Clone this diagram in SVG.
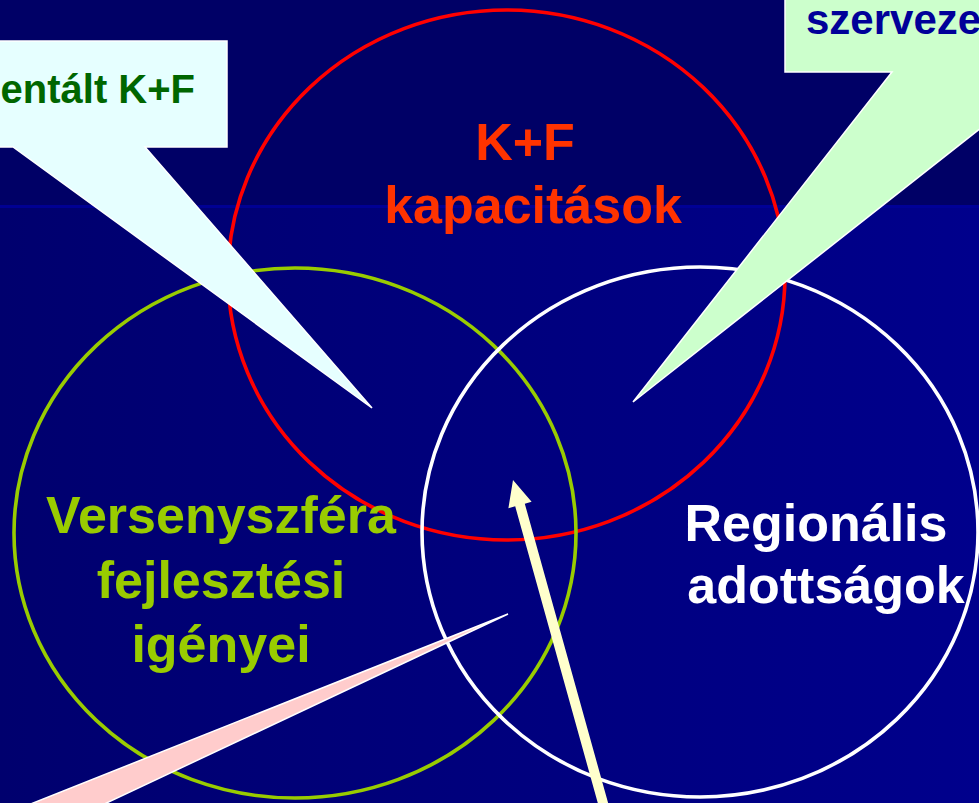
<svg xmlns="http://www.w3.org/2000/svg" width="979" height="803" viewBox="0 0 979 803">
  <defs>
    <linearGradient id="lowBg" x1="0" y1="0" x2="1" y2="0">
      <stop offset="0" stop-color="#00006e"/>
      <stop offset="1" stop-color="#00008c"/>
    </linearGradient>
    <style>
      .ring { fill: none; stroke-width: 3.6; }
      .lbl { font-family: "Liberation Sans", Arial, sans-serif; font-weight: bold; }
      .big { font-size: 52px; text-anchor: middle; }
      .small { font-size: 40px; }
      .callout { stroke: #ffffff; stroke-width: 1.5; stroke-linejoin: miter; }
    </style>
  </defs>

  <g id="background">
    <rect x="0" y="0" width="979" height="803" fill="url(#lowBg)"/>
    <rect x="0" y="0" width="979" height="205" fill="#000066"/>
    <rect x="0" y="205" width="979" height="3" fill="#000099" opacity="0.85"/>
  </g>

  <g id="node-kf">
    <ellipse class="ring" cx="506.5" cy="275" rx="278.5" ry="265" stroke="#ff0000"/>
    <text class="lbl big" x="525" y="160" fill="#ff3300">K+F</text>
    <text class="lbl big" x="533" y="223" fill="#ff3300">kapacitások</text>
  </g>

  <g id="node-versenyszfera">
    <ellipse class="ring" cx="295" cy="533" rx="281" ry="265" stroke="#99cc00"/>
    <text class="lbl big" x="221" y="533" fill="#99cc00">Versenyszféra</text>
    <text class="lbl big" x="221" y="598" fill="#99cc00">fejlesztési</text>
    <text class="lbl big" x="221" y="662" fill="#99cc00">igényei</text>
  </g>

  <g id="node-regionalis">
    <ellipse class="ring" cx="700" cy="532" rx="278" ry="265" stroke="#ffffff"/>
    <text class="lbl big" x="816" y="541" fill="#ffffff">Regionális</text>
    <text class="lbl big" x="826" y="603" fill="#ffffff">adottságok</text>
  </g>

  <g id="callout-topleft">
    <path class="callout" d="M -5,41 L 227,41 L 227,147 L 145,147 L 372,408 L 13,147 L -5,147 Z" fill="#e6ffff"/>
    <text class="lbl small" x="195" y="103" text-anchor="end" fill="#006600">entált K+F</text>
  </g>

  <g id="callout-topright">
    <path class="callout" d="M 785,-5 L 785,72 L 892,72 L 633,402 L 1052,72 L 1060,72 L 1060,-5 Z" fill="#ccffcc"/>
    <text class="lbl" x="806" y="34" font-size="42" fill="#000099">szerveze</text>
  </g>

  <g id="callout-bottomleft">
    <path class="callout" d="M 508,614 L 81,815 L 3,815 Z" fill="#ffcccc"/>
  </g>

  <g id="connectors">
    <polygon points="513,480 531.6,501.8 524.8,503.7 611.1,813.7 601.5,816.3 515.2,506.3 508.4,508.2" fill="#ffffcc"/>
  </g>
</svg>
